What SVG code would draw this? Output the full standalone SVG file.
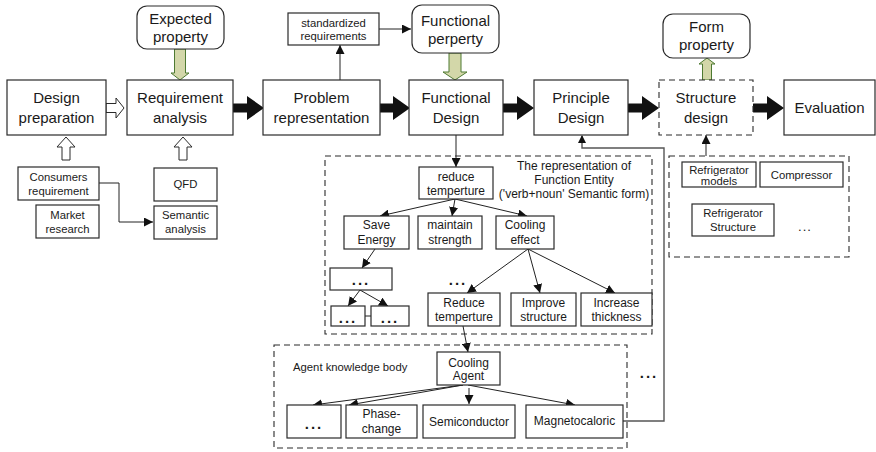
<svg xmlns="http://www.w3.org/2000/svg" width="876" height="452" viewBox="0 0 876 452">
  <style>
    text { font-family: "Liberation Sans", Arial, sans-serif; fill: #1a1a1a; text-anchor: middle; }
    .big { font-size: 15px; }
    .sm { font-size: 11.3px; }
    .tr { font-size: 12px; }
    .box { fill: #fff; stroke: #2a2a2a; stroke-width: 1.2; }
    .dash { fill: none; stroke: #2a2a2a; stroke-width: 1.1; stroke-dasharray: 6 4; }
    .dbox { fill: #fff; stroke: #2a2a2a; stroke-width: 1.1; stroke-dasharray: 6 4; }
    .ln { fill: none; stroke: #222; stroke-width: 1; }
    .ret { fill: none; stroke: #555; stroke-width: 1.4; }
    .big-arrow { fill: #111; }
    .hollow { fill: #fff; stroke: #2a2a2a; stroke-width: 1; }
    .green { fill: #d3d7a9; stroke: #4e7a32; stroke-width: 1; }
    .dots { font-size: 15px; font-weight: bold; letter-spacing: 2px; }
  </style>
  <defs>
    <marker id="ah" viewBox="0 0 10 10" refX="10" refY="5" markerWidth="9" markerHeight="9" markerUnits="userSpaceOnUse" orient="auto">
      <path d="M0,0 L10,5 L0,10 Z" fill="#111"/>
    </marker>
    <!-- thick black process arrow with a rounded tail -->
    <path id="bigArrow" d="M0,-4.5 H13 V-12 L30,0 L13,12 V4.5 H0 A4.5,4.5 0 0 1 0,-4.5 Z"/>
  </defs>

  <!-- connectors -->
  <g id="connectors">
    <use href="#bigArrow" class="big-arrow" transform="translate(234,108)"/>
    <use href="#bigArrow" class="big-arrow" transform="translate(380,108)"/>
    <use href="#bigArrow" class="big-arrow" transform="translate(504,108)"/>
    <use href="#bigArrow" class="big-arrow" transform="translate(629,108)"/>
    <use href="#bigArrow" class="big-arrow" transform="translate(754,108)"/>

    <!-- hollow arrows -->
    <path class="hollow" d="M106,103.5 H116 V98 L124,108 L116,118 V112.5 H106 Z"/>
    <path class="hollow" d="M62,160 V147 H57 L66,137 L75,147 H70 V160 Z"/>
    <path class="hollow" d="M179,160 V147 H174 L183,137 L192,147 H187 V160 Z"/>

    <!-- property arrows -->
    <path class="green" d="M174.5,49 V73 H171 L180,80 L189,73 H185.5 V49 Z"/>
    <path class="green" d="M449,53 V72 H443 L455,80 L467,72 H461 V53 Z"/>
    <path class="green" d="M702.5,80 V64 H699 L707,58 L715,64 H711.5 V80 Z"/>

    <path class="ln" d="M99,183 H119 V222 H153" marker-end="url(#ah)"/>
    <path class="ln" d="M340,80 V45" marker-end="url(#ah)"/>
    <path class="ln" d="M379,29 H411" marker-end="url(#ah)"/>
    <path class="ln" d="M456,135 V167" marker-end="url(#ah)"/>
    <path class="ln" d="M706,156 V135" marker-end="url(#ah)"/>
    <path class="ret" d="M623,421 H664 V148 H582 V136"/>
    <path d="M582,135 L586,143 L578,143 Z" fill="#111"/>

    <!-- function tree -->
    <path class="ln" d="M455,199 L380,216" marker-end="url(#ah)"/>
    <path class="ln" d="M455,199 L452,216" marker-end="url(#ah)"/>
    <path class="ln" d="M455,199 L527,216" marker-end="url(#ah)"/>
    <path class="ln" d="M375,249 L362,268" marker-end="url(#ah)"/>
    <path class="ln" d="M360,290 L348,306" marker-end="url(#ah)"/>
    <path class="ln" d="M360,290 L388,306" marker-end="url(#ah)"/>
    <path class="ln" d="M365,316 H371"/>
    <path class="ln" d="M528,249 L467,293" marker-end="url(#ah)"/>
    <path class="ln" d="M528,249 L540,293" marker-end="url(#ah)"/>
    <path class="ln" d="M528,249 L615,293" marker-end="url(#ah)"/>
    <path class="ln" d="M463,326 L468,352" marker-end="url(#ah)"/>

    <!-- agent tree -->
    <path class="ln" d="M463,385 L313,405" marker-end="url(#ah)"/>
    <path class="ln" d="M463,385 L349,405" marker-end="url(#ah)"/>
    <path class="ln" d="M469,388 V404" marker-end="url(#ah)"/>
    <path class="ln" d="M468,385 L575,405" marker-end="url(#ah)"/>
  </g>

  <!-- main process -->
  <g id="design-preparation">
    <rect class="box" x="7" y="80" width="99" height="55"/>
    <text class="big" x="56.5" y="102.5">Design</text>
    <text class="big" x="56.5" y="122.5">preparation</text>
  </g>
  <g id="requirement-analysis">
    <rect class="box" x="127" y="80" width="106" height="55"/>
    <text class="big" x="180" y="102.5">Requirement</text>
    <text class="big" x="180" y="122.5">analysis</text>
  </g>
  <g id="problem-representation">
    <rect class="box" x="263" y="80" width="117" height="55"/>
    <text class="big" x="321.5" y="102.5">Problem</text>
    <text class="big" x="321.5" y="122.5">representation</text>
  </g>
  <g id="functional-design">
    <rect class="box" x="409" y="80" width="94" height="55"/>
    <text class="big" x="456" y="102.5">Functional</text>
    <text class="big" x="456" y="122.5">Design</text>
  </g>
  <g id="principle-design">
    <rect class="box" x="534" y="80" width="94" height="55"/>
    <text class="big" x="581" y="102.5">Principle</text>
    <text class="big" x="581" y="122.5">Design</text>
  </g>
  <g id="structure-design">
    <rect class="dbox" x="659" y="80" width="94" height="55"/>
    <text class="big" x="706" y="102.5">Structure</text>
    <text class="big" x="706" y="122.5">design</text>
  </g>
  <g id="evaluation">
    <rect class="box" x="784" y="80" width="91" height="55"/>
    <text class="big" x="829.5" y="113">Evaluation</text>
  </g>

  <!-- properties -->
  <g id="expected-property">
    <rect class="box" x="137" y="6" width="87" height="43" rx="10"/>
    <text class="big" x="180.5" y="23.5">Expected</text>
    <text class="big" x="180.5" y="41.5">property</text>
  </g>
  <g id="functional-perperty">
    <rect class="box" x="412" y="5" width="87" height="48" rx="10"/>
    <text class="big" x="455.5" y="25.5">Functional</text>
    <text class="big" x="455.5" y="43.5">perperty</text>
  </g>
  <g id="form-property">
    <rect class="box" x="663" y="14" width="87" height="44" rx="10"/>
    <text class="big" x="706.5" y="32">Form</text>
    <text class="big" x="706.5" y="50">property</text>
  </g>
  <g id="standardized-requirements">
    <rect class="box" x="288" y="13" width="91" height="32"/>
    <text class="sm" x="333.5" y="27">standardized</text>
    <text class="sm" x="333.5" y="40">requirements</text>
  </g>

  <!-- inputs -->
  <g id="consumers-requirement">
    <rect class="box" x="18" y="167" width="81" height="33"/>
    <text class="sm" x="58.5" y="181">Consumers</text>
    <text class="sm" x="58.5" y="195">requirement</text>
  </g>
  <g id="market-research">
    <rect class="box" x="36" y="205" width="63" height="33"/>
    <text class="sm" x="67.5" y="219">Market</text>
    <text class="sm" x="67.5" y="233">research</text>
  </g>
  <g id="qfd">
    <rect class="box" x="154" y="168" width="63" height="33"/>
    <text class="sm" x="185.5" y="188">QFD</text>
  </g>
  <g id="semantic-analysis">
    <rect class="box" x="154" y="206" width="63" height="33"/>
    <text class="sm" x="185.5" y="219">Semantic</text>
    <text class="sm" x="185.5" y="233">analysis</text>
  </g>

  <!-- function entity representation -->
  <g id="function-entity">
    <rect class="dash" x="325" y="156" width="327" height="178"/>
    <text class="tr" x="574" y="170">The representation of</text>
    <text class="tr" x="574" y="183.5">Function Entity</text>
    <text class="tr" x="574" y="198">('verb+noun' Semantic form)</text>
    <text class="dots" x="458" y="285">...</text>
  </g>
  <g id="reduce-temperture">
    <rect class="box" x="419" y="167" width="74" height="32"/>
    <text class="tr" x="456" y="181">reduce</text>
    <text class="tr" x="456" y="195">temperture</text>
  </g>
  <g id="save-energy">
    <rect class="box" x="344" y="216" width="65" height="33"/>
    <text class="tr" x="376.5" y="229">Save</text>
    <text class="tr" x="376.5" y="244">Energy</text>
  </g>
  <g id="maintain-strength">
    <rect class="box" x="418" y="216" width="64" height="33"/>
    <text class="tr" x="450" y="229">maintain</text>
    <text class="tr" x="450" y="244">strength</text>
  </g>
  <g id="cooling-effect">
    <rect class="box" x="496" y="216" width="58" height="33"/>
    <text class="tr" x="525" y="229">Cooling</text>
    <text class="tr" x="525" y="244">effect</text>
  </g>
  <g id="sub-functions">
    <rect class="box" x="330" y="268" width="62" height="22"/>
    <text class="dots" x="361" y="285">...</text>
  </g>
  <g id="sub-function-a">
    <rect class="box" x="331" y="306" width="34" height="20"/>
    <text class="dots" x="348" y="323">...</text>
  </g>
  <g id="sub-function-b">
    <rect class="box" x="371" y="306" width="38" height="20"/>
    <text class="dots" x="390" y="323">...</text>
  </g>
  <g id="reduce-temperture-2">
    <rect class="box" x="428" y="293" width="72" height="33"/>
    <text class="tr" x="464" y="307">Reduce</text>
    <text class="tr" x="464" y="321">temperture</text>
  </g>
  <g id="improve-structure">
    <rect class="box" x="511" y="293" width="65" height="33"/>
    <text class="tr" x="543.5" y="307">Improve</text>
    <text class="tr" x="543.5" y="321">structure</text>
  </g>
  <g id="increase-thickness">
    <rect class="box" x="581" y="293" width="71" height="33"/>
    <text class="tr" x="616.5" y="307">Increase</text>
    <text class="tr" x="616.5" y="321">thickness</text>
  </g>

  <!-- agent knowledge body -->
  <g id="agent-knowledge-body">
    <rect class="dash" x="274" y="345" width="353" height="103"/>
    <text class="sm" x="293" y="371" style="text-anchor:start">Agent knowledge body</text>
  </g>
  <g id="cooling-agent">
    <rect class="box" x="437" y="352" width="63" height="33"/>
    <text class="tr" x="468.5" y="367">Cooling</text>
    <text class="tr" x="468.5" y="380">Agent</text>
  </g>
  <g id="agent-other">
    <rect class="box" x="287" y="405" width="54" height="33"/>
    <text class="dots" x="314" y="429">...</text>
  </g>
  <g id="phase-change">
    <rect class="box" x="346" y="405" width="71" height="33"/>
    <text class="tr" x="381.5" y="418">Phase-</text>
    <text class="tr" x="381.5" y="433">change</text>
  </g>
  <g id="semiconductor">
    <rect class="box" x="423" y="405" width="92" height="33"/>
    <text class="tr" x="469" y="426">Semiconductor</text>
  </g>
  <g id="magnetocaloric">
    <rect class="box" x="526" y="405" width="97" height="33"/>
    <text class="tr" x="574.5" y="425">Magnetocaloric</text>
  </g>
  <text class="dots" x="649" y="378">...</text>

  <!-- structure knowledge -->
  <g id="structure-library">
    <rect class="dash" x="669" y="156" width="180" height="101"/>
    <text class="sm" x="805" y="231" style="font-size:13px;letter-spacing:1px">...</text>
  </g>
  <g id="refrigerator-models">
    <rect class="box" x="682" y="162" width="74" height="25"/>
    <text class="sm" x="719" y="173.5">Refrigerator</text>
    <text class="sm" x="719" y="185">models</text>
  </g>
  <g id="compressor">
    <rect class="box" x="760" y="162" width="83" height="25"/>
    <text class="sm" x="801.5" y="179">Compressor</text>
  </g>
  <g id="refrigerator-structure">
    <rect class="box" x="692" y="204" width="82" height="32"/>
    <text class="sm" x="733" y="217">Refrigerator</text>
    <text class="sm" x="733" y="231">Structure</text>
  </g>
</svg>
